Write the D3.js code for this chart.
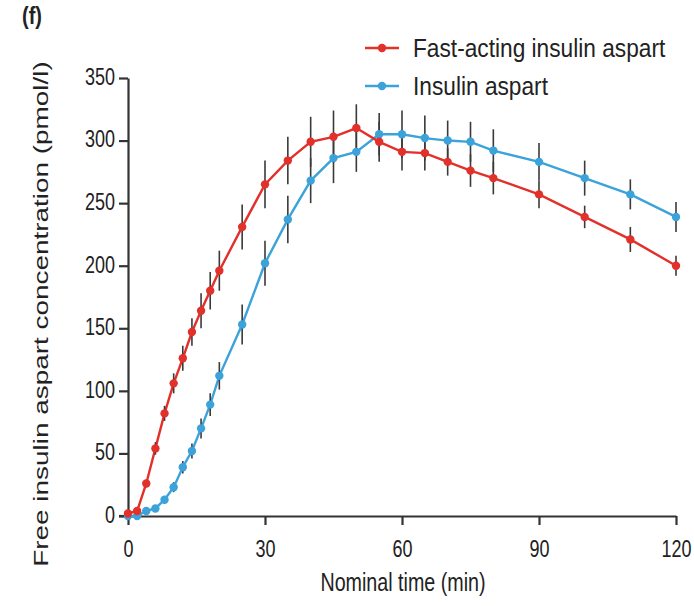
<!DOCTYPE html>
<html><head><meta charset="utf-8">
<script src="https://cdn.jsdelivr.net/npm/d3@7"></script>
<style>
html,body{margin:0;padding:0;background:#fff;}
text{font-family:"Liberation Sans",Arial,sans-serif;fill:#222;}
</style></head>
<body><svg id="c" width="694" height="606"></svg>
<script>
const fastTimes = [0,2,4,6,8,10,12,14,16,18,20,25,30,35,40,45,50,55,60,65,70,75,80,90,100,110,120];
const fastValues = [2,4,26,54,82,106,126,147,164,180,196,231,265,284,299,303,310,299,291,290,283,276,270,257,239,221,200];
const fastErr = [0,1,3,5,6,8,10,11,14,15,16,18,19,19,20,21,19,16,15,14,11,13,13,11,9,10,8];
const aspTimes = [0,2,4,6,8,10,12,14,16,18,20,25,30,35,40,45,50,55,60,65,70,75,80,90,100,110,120];
const aspValues = [0,0,4,6,13,23,39,52,70,89,112,153,202,237,268,286,291,305,305,302,300,299,292,283,270,257,239];
const aspErr = [0,0,1,2,3,4,5,6,8,9,11,16,18,19,18,20,16,17,19,18,16,16,17,15,14,12,12];
const xTicks = [0,30,60,90,120];
const yTicks = [0,50,100,150,200,250,300,350];
const seriesNames = ["Fast-acting insulin aspart","Insulin aspart"];
const seriesColors = ["#e2302b","#3ba3da"];

const svg = d3.select("#c");
const x = d3.scaleLinear().domain([0,120]).range([128,676]);
const y = d3.scaleLinear().domain([0,350]).range([516,78]);
const SY = 1.3; // vertical stretch of lettering in the reference

const axisColor = "#333";
const gx = svg.append("g").attr("transform","translate(0,516)")
  .call(d3.axisBottom(x).tickValues(xTicks).tickSize(9).tickSizeOuter(0));
const gy = svg.append("g").attr("transform","translate(128,0)")
  .call(d3.axisLeft(y).tickValues(yTicks).tickSize(9).tickPadding(4).tickSizeOuter(0));
[gx,gy].forEach(g=>{
  g.select(".domain").attr("stroke",axisColor).attr("stroke-width",2.2);
  g.selectAll(".tick line").attr("stroke",axisColor).attr("stroke-width",2.2);
  g.selectAll(".tick text").attr("font-size",18).attr("fill","#222")
   .style("font-family","'Liberation Sans',Arial,sans-serif");
});
gx.selectAll(".tick text").attr("dy",0).attr("y",41/SY).attr("transform",`scale(1,${SY})`);
gy.selectAll(".tick text").attr("dy",0).attr("y",6.3/SY).attr("transform",`scale(1,${SY})`);
// extend x axis to meet y tick
svg.append("line").attr("x1",119).attr("x2",128).attr("y1",516).attr("y2",516)
  .attr("stroke",axisColor).attr("stroke-width",2.2);

const series = [
  {t:aspTimes,v:aspValues,e:aspErr,c:seriesColors[1]},
  {t:fastTimes,v:fastValues,e:fastErr,c:seriesColors[0]}
];
const line = d3.line().x(d=>x(d.t)).y(d=>y(d.v));
series.forEach(s=>{
  const pts = s.t.map((t,i)=>({t:t,v:s.v[i],e:s.e[i]}));
  svg.append("path").datum(pts).attr("d",line).attr("fill","none")
    .attr("stroke",s.c).attr("stroke-width",2.4);
});
series.forEach(s=>{
  const pts = s.t.map((t,i)=>({t:t,v:s.v[i],e:s.e[i]}));
  svg.append("g").selectAll("line").data(pts.filter(d=>d.e>0)).join("line")
    .attr("x1",d=>x(d.t)).attr("x2",d=>x(d.t))
    .attr("y1",d=>y(d.v-d.e)).attr("y2",d=>y(d.v+d.e))
    .attr("stroke","#3a3a3a").attr("stroke-width",1.6);
});
series.forEach(s=>{
  const pts = s.t.map((t,i)=>({t:t,v:s.v[i],e:s.e[i]}));
  svg.append("g").selectAll("circle").data(pts).join("circle")
    .attr("cx",d=>x(d.t)).attr("cy",d=>y(d.v)).attr("r",4.2).attr("fill",s.c);
});

// legend
seriesNames.forEach((n,i)=>{
  const ly = 48 + i*38;
  svg.append("line").attr("x1",365).attr("x2",399).attr("y1",ly).attr("y2",ly)
    .attr("stroke",seriesColors[i]).attr("stroke-width",2.4);
  svg.append("circle").attr("cx",382).attr("cy",ly).attr("r",4.2).attr("fill",seriesColors[i]);
  svg.append("text").attr("transform",`translate(413,${ly+9}) scale(1,1.12)`)
    .attr("font-size",22.7).text(n);
});

svg.append("text").attr("transform",`translate(403,591) scale(1,${SY})`).attr("text-anchor","middle")
  .attr("font-size",19.7).text("Nominal time (min)");
svg.append("text").attr("transform","translate(48,314) rotate(-90) scale(1.33,1)").attr("text-anchor","middle")
  .attr("font-size",21).text("Free insulin aspart concentration (pmol/l)");
svg.append("text").attr("transform",`translate(22,24) scale(1,1.2)`).attr("font-size",20)
  .attr("font-weight","bold").text("(f)");
</script></body></html>
